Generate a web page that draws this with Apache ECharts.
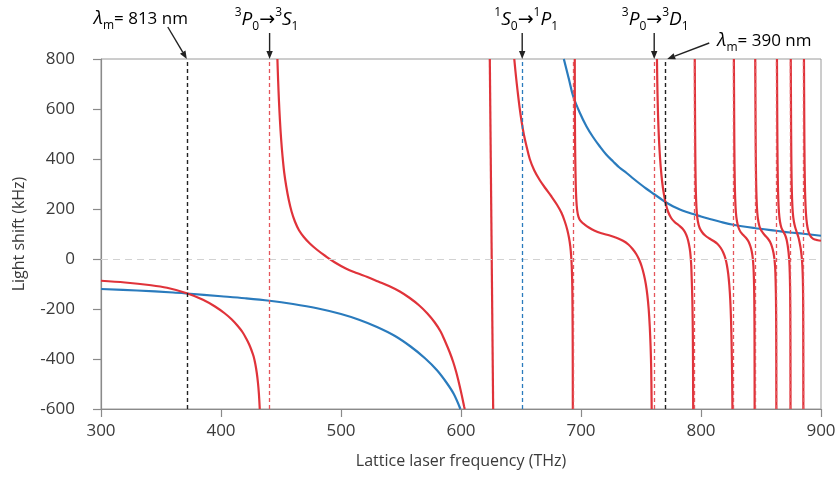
<!DOCTYPE html>
<html>
<head>
<meta charset="utf-8">
<script src="https://cdn.jsdelivr.net/npm/echarts@6/dist/echarts.min.js"></script>
<style>html,body{margin:0;padding:0;background:#fff;}#c{width:840px;height:477px;}</style>
</head>
<body>
<div id="c"></div>
<script>
// ---- data ----
const xRange = [300, 900];
const yRange = [-600, 800];

// ground state (1S0) light shift, kHz
const blueBranches = [
  [[300,-120],[330,-126],[360,-134],[371.5,-138],[400,-149],[420,-157],[440.5,-167],[460,-180],[480,-197],[500,-220],[515,-243],[530,-272],[545,-308],[558,-350],[570,-397],[580,-445],[588,-495],[594,-540],[599.5,-600]],
  [[685.7,800],[690,718],[693.4,652],[699,585],[704.6,530],[710,488],[715.7,450],[721,418],[726.8,390],[732,366],[738,344],[743.5,322],[749,301],[754.5,281],[760.1,262],[765.5,244],[770.7,227],[776.5,211],[782.4,198],[788,188],[793.5,180],[800,170],[807.4,160],[816,149],[826.9,137],[844.4,124],[862.5,113],[874.1,106],[885.2,101],[900,93]]
];

// clock state (3P0) light shift, kHz
const redBranches = [
  [[300,-87],[320,-94],[340,-104],[355,-115],[371.5,-137],[385,-163],[395,-190],[403,-217],[409,-242],[414,-268],[418,-293],[421,-318],[423.5,-342],[425.5,-366],[427.2,-390],[428.6,-420],[429.8,-455],[430.8,-495],[431.6,-540],[432.3,-600]],
  [[447,800],[447.6,715],[448.3,632],[449.1,556],[450.1,480],[451.3,410],[452.7,345],[454.4,290],[456.4,238],[458.8,190],[461.6,150],[465,115],[469,88],[474,62],[480,37],[487,12],[495,-14],[504,-38],[513,-56],[522,-72],[531,-90],[540,-108],[549,-130],[557,-155],[565,-185],[572,-218],[578,-253],[583,-290],[587,-332],[590.5,-372],[593.5,-412],[596,-452],[598,-490],[599.8,-527],[601.3,-560],[602.6,-590],[603.1,-600]],
  [[624.0,800],[626.8,-600]],
  [[644.4,800],[645.4,750],[646.5,700],[647.7,650],[649,600],[650.5,550],[652.3,500],[654.4,455],[657.3,400],[661,355],[665.7,315],[670.5,282],[675.4,250],[680,217],[683.8,184],[686.5,150],[688.5,118],[690,85],[691.1,50],[691.8,12],[692.3,-30],[692.7,-100],[692.9,-180],[693.1,-350],[693.2,-600]],
  [[694.8,800],[694.9,600],[695.1,450],[695.4,350],[695.8,270],[696.4,215],[697.3,180],[698.6,160],[700.5,148],[703,138],[706.5,126],[711,114],[717,103],[724,94],[730,84],[735,73],[739.5,58],[743,40],[746,20],[748.5,-3],[750.6,-30],[752.4,-62],[754,-100],[755.3,-145],[756.4,-200],[757.3,-270],[758,-350],[758.5,-440],[758.9,-600]],
  [[763.3,800],[763.6,700],[764,610],[764.6,520],[765.4,440],[766.4,370],[767.6,310],[769,262],[770.6,222],[772.5,190],[775,165],[778,148],[781.5,135],[784.5,122],[786.8,106],[788.6,85],[790,58],[791,28],[791.8,-20],[792.3,-85],[792.8,-170],[793.2,-300],[793.5,-600]],
  [[794.8,800],[795,600],[795.2,440],[795.5,320],[795.9,240],[796.5,185],[797.4,150],[798.8,125],[800.8,108],[803.5,94],[807,82],[810.5,72],[813.8,60],[816.5,44],[818.6,25],[820.3,3],[821.6,-25],[822.7,-60],[823.6,-105],[824.4,-165],[825,-240],[825.5,-340],[825.9,-460],[826.2,-600]],
  [[827.4,800],[827.6,600],[827.8,440],[828.1,320],[828.5,240],[829.1,185],[830,150],[831.3,125],[833,108],[835.2,96],[837.6,84],[839.6,70],[841.1,52],[842.3,30],[843.1,5],[843.7,-30],[844.1,-80],[844.4,-160],[844.6,-300],[844.7,-600]],
  [[845.2,800],[845.4,600],[845.6,440],[845.9,320],[846.3,240],[846.9,185],[847.8,150],[849.1,125],[850.8,110],[853,96],[855.5,83],[857.6,68],[859.2,48],[860.4,25],[861.2,0],[861.8,-35],[862.2,-90],[862.5,-170],[862.7,-310],[862.8,-600]],
  [[863.3,800],[863.5,600],[863.7,440],[864,320],[864.4,240],[865,185],[865.8,150],[867,125],[868.5,110],[870,97],[871.3,78],[872.3,52],[873,25],[873.6,-10],[874,-60],[874.3,-140],[874.5,-300],[874.6,-600]],
  [[874.8,800],[875,600],[875.2,440],[875.5,320],[875.9,240],[876.5,185],[877.4,150],[878.6,125],[880,105],[881.3,85],[882.4,60],[883.3,35],[884,5],[884.6,-40],[885,-110],[885.2,-250],[885.3,-600]],
  [[885.8,800],[886,600],[886.2,440],[886.5,320],[886.9,240],[887.5,180],[888.3,140],[889.4,112],[890.8,95],[892.6,84],[894.8,78],[897.3,75],[900,73]]
];

const redResonances = [440.5, 693.6, 761, 794, 826.8, 844.9, 862.9, 874.6, 885.5];
const blueResonances = [651];
const magicFreqs = [371.5, 770.2];
const magicLabels = ['{it|λ}{sub|m}{b|= 813 nm}', '{it|λ}{sub|m}{b|= 390 nm}'];
const transitionFreqs = [440.5, 651, 761];
const transitionLabels = [
  '{sup|3}{it|P}{sub|0}{ar|→}{sup|3}{it|S}{sub|1}',
  '{sup|1}{it|S}{sub|0}{ar|→}{sup|1}{it|P}{sub|1}',
  '{sup|3}{it|P}{sub|0}{ar|→}{sup|3}{it|D}{sub|1}'
];
const xTitle = 'Lattice laser frequency (THz)';
const yTitle = 'Light shift (kHz)';

// ---- chart ----
const RED = '#e0333a', BLUE = '#2a7bbd', FONT = '"Open Sans", sans-serif';
const chart = echarts.init(document.getElementById('c'), null, {renderer: 'canvas'});

const series = [];
function vline(values, color, width) {
  return {
    type: 'line', data: [], silent: true,
    markLine: {
      symbol: 'none', silent: true, animation: false,
      label: {show: false},
      lineStyle: {color: color, type: [4, 3], width: width},
      data: values.map(v => ({xAxis: v}))
    }
  };
}
series.push({
  type: 'line', data: [], silent: true,
  markLine: {symbol: 'none', silent: true, animation: false, label: {show: false},
    lineStyle: {color: '#d2d2d2', type: [7, 5], width: 1.2}, data: [{yAxis: 0}]}
});
series.push(vline(redResonances, '#e4555b', 1.3));
series.push(vline(blueResonances, BLUE, 1.3));
series.push(vline(magicFreqs, '#222', 1.4));
blueBranches.forEach(b => series.push({
  type: 'line', data: b, showSymbol: false, smooth: 0.35, clip: true,
  lineStyle: {color: BLUE, width: 2.2}, z: 3, animation: false
}));
redBranches.forEach(b => series.push({
  type: 'line', data: b, showSymbol: false, smooth: 0.35, clip: true,
  lineStyle: {color: RED, width: 2.2}, z: 4, animation: false
}));

const axisText = {color: '#3a3a3a', fontSize: 17, fontFamily: FONT};
chart.setOption({
  animation: false,
  backgroundColor: '#fff',
  grid: {left: 101, right: 19, top: 59, bottom: 68, show: true, borderColor: '#9a9a9a', borderWidth: 1},
  xAxis: {
    type: 'value', min: xRange[0], max: xRange[1], interval: 100,
    axisLine: {show: true, onZero: false, lineStyle: {color: '#8a8a8a', width: 1.2}},
    axisTick: {show: true, inside: false, length: 8, lineStyle: {color: '#8a8a8a', width: 1.2}},
    axisLabel: Object.assign({margin: 14}, axisText),
    splitLine: {show: false},
    name: xTitle, nameLocation: 'middle', nameGap: 44,
    nameTextStyle: {color: '#3a3a3a', fontSize: 16, fontFamily: FONT}
  },
  yAxis: {
    type: 'value', min: yRange[0], max: yRange[1], interval: 200,
    axisLine: {show: true, onZero: false, lineStyle: {color: '#8a8a8a', width: 1.2}},
    axisTick: {show: true, inside: false, length: 8, lineStyle: {color: '#8a8a8a', width: 1.2}},
    axisLabel: Object.assign({margin: 26}, axisText),
    splitLine: {show: false},
    name: yTitle, nameLocation: 'middle', nameGap: 74, nameRotate: 90,
    nameTextStyle: {color: '#3a3a3a', fontSize: 16, fontFamily: FONT}
  },
  series: series
});

// ---- annotations (positioned through the chart's own scales) ----
const rich = {
  b: {fontSize: 17, fontFamily: FONT, color: '#222', lineHeight: 26, verticalAlign: 'middle'},
  ar: {fontSize: 19, fontFamily: '"DejaVu Sans", sans-serif', color: '#222', lineHeight: 26, verticalAlign: 'middle'},
  it: {fontSize: 19, fontFamily: FONT, fontStyle: 'italic', color: '#222', lineHeight: 26, verticalAlign: 'middle'},
  sup: {fontSize: 12, fontFamily: FONT, color: '#222', lineHeight: 12, verticalAlign: 'top'},
  sub: {fontSize: 12, fontFamily: FONT, color: '#222', lineHeight: 12, verticalAlign: 'bottom'}
};
function P(x, y) { return chart.convertToPixel({gridIndex: 0}, [x, y]); }
const topY = P(300, yRange[1])[1];
const graphics = [];
function arrow(x1, y1, x2, y2) {
  const dx = x2 - x1, dy = y2 - y1, L = Math.hypot(dx, dy);
  const ux = dx / L, uy = dy / L, h = 8, w = 3.2;
  const bx = x2 - ux * h, by = y2 - uy * h;
  graphics.push({type: 'line', silent: true, shape: {x1: x1, y1: y1, x2: bx, y2: by},
    style: {stroke: '#222', lineWidth: 1.4}});
  graphics.push({type: 'polygon', silent: true,
    shape: {points: [[x2, y2], [bx - uy * w, by + ux * w], [bx + uy * w, by - ux * w]]},
    style: {fill: '#222'}});
}
const tShift = [-3, 4, 1];
transitionFreqs.forEach((f, i) => {
  const x = P(f, 0)[0];
  graphics.push({type: 'text', silent: true, x: x + tShift[i], y: 20,
    style: {text: transitionLabels[i], rich: rich, align: 'center', verticalAlign: 'middle'}});
  arrow(x, 33, x, topY);
});
// 813 nm
(function () {
  const x = P(magicFreqs[0], 0)[0];
  graphics.push({type: 'text', silent: true, x: x - 46, y: 19,
    style: {text: magicLabels[0], rich: rich, align: 'center', verticalAlign: 'middle'}});
  arrow(x - 19, 27, x, topY);
})();
// 390 nm
(function () {
  const x = P(magicFreqs[1], 0)[0];
  graphics.push({type: 'text', silent: true, x: x + 52, y: 41,
    style: {text: magicLabels[1], rich: rich, align: 'left', verticalAlign: 'middle'}});
  arrow(x + 44, 43, x + 2, topY);
})();
chart.setOption({graphic: graphics});
</script>
</body>
</html>
